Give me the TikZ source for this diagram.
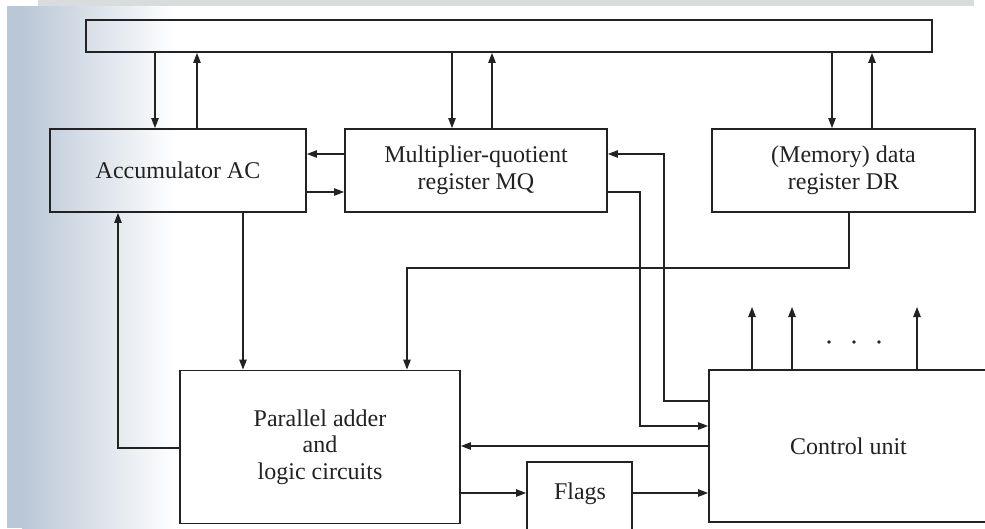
\documentclass[tikz,border=0pt]{standalone}
\usepackage{fontspec}
\setmainfont{Liberation Serif}
\usetikzlibrary{arrows.meta,calc}
\definecolor{ink}{HTML}{222222}
\definecolor{scanblue}{HTML}{BAC7D6}
\definecolor{scangrey}{HTML}{D8DCDC}
\begin{document}
\begin{tikzpicture}[x=1pt,y=-1pt,
  box/.style={draw=ink, line width=1.9pt, inner sep=0pt, align=center,
    font=\fontsize{24}{26.5}\selectfont, text=ink},
  lbl/.style={inner sep=0pt, font=\fontsize{24}{26.5}\selectfont, text=ink},
  arr/.style={draw=ink, line width=1.1pt, -{Triangle[length=10pt,width=7.5pt]}}]
\clip (0,0) rectangle (985,528);
\fill[white] (0,0) rectangle (985,528);
% scan artefacts
\fill[scangrey] (38,0) rectangle (974,6);
\fill[scanblue] (7,6) rectangle (22,528);
\shade[left color=scanblue, right color=white] (22,6) rectangle (175,528);

% boxes
\node[box, minimum width=846pt, minimum height=32pt] (bus) at (509,36) {};
\node[box, minimum width=256pt, minimum height=83pt] (ac) at (178,170.5) {Accumulator AC};
\node[box, minimum width=262pt, minimum height=83pt] (mq) at (476,170.5) {Multiplier-quotient\\register MQ};
\node[box, minimum width=263pt, minimum height=83pt] (dr) at (843.5,170.5) {(Memory) data\\register DR};
\node[box, minimum width=280pt, minimum height=153pt] (adder) at (320,447) {Parallel adder\\and\\logic circuits};
\node[box, minimum width=279pt, minimum height=152pt] (control) at (848.5,446) {Control unit};
\node[box, minimum width=105pt, minimum height=80pt] (flags) at (579.5,502) {};
\node[lbl] (flagstxt) at (580,494) {Flags};

% reference coordinates
\coordinate (x155) at (155,0);
\coordinate (x197) at (197,0);
\coordinate (x452) at (452,0);
\coordinate (x492) at (492,0);
\coordinate (x832) at (832,0);
\coordinate (x872) at (872,0);
\coordinate (x243) at (243,0);
\coordinate (x849) at (849,0);
\coordinate (x407) at (407,0);
\coordinate (x118) at (118,0);
\coordinate (x664) at (664,0);
\coordinate (x640) at (640,0);
\coordinate (y154) at (0,154);
\coordinate (y192) at (0,192);
\coordinate (y268) at (0,268);
\coordinate (y448) at (0,448);
\coordinate (y401) at (0,401);
\coordinate (y426) at (0,426);
\coordinate (y446) at (0,446);
\coordinate (y493) at (0,493);
\coordinate (o1) at (752,307);
\coordinate (o2) at (792,307);
\coordinate (o3) at (917,307);

% bus connections
\draw[arr] (bus.south -| x155) -- (ac.north -| x155);
\draw[arr] (ac.north -| x197) -- (bus.south -| x197);
\draw[arr] (bus.south -| x452) -- (mq.north -| x452);
\draw[arr] (mq.north -| x492) -- (bus.south -| x492);
\draw[arr] (bus.south -| x832) -- (dr.north -| x832);
\draw[arr] (dr.north -| x872) -- (bus.south -| x872);

% AC <-> MQ
\draw[arr] (mq.west |- y154) -- (ac.east |- y154);
\draw[arr] (ac.east |- y192) -- (mq.west |- y192);

% into adder
\draw[arr] (ac.south -| x243) -- (adder.north -| x243);
\draw[arr] (dr.south -| x849) -- (x849 |- y268) -- (x407 |- y268) -- (adder.north -| x407);
\draw[arr] (adder.west |- y448) -- (x118 |- y448) -- (ac.south -| x118);

% control unit links
\draw[arr] (control.west |- y401) -- (x664 |- y401) -- (x664 |- y154) -- (mq.east |- y154);
\draw[arr] (mq.east |- y192) -- (x640 |- y192) -- (x640 |- y426) -- (control.west |- y426);
\draw[arr] (control.west |- y446) -- (adder.east |- y446);
\draw[arr] (adder.east |- y493) -- (flags.west |- y493);
\draw[arr] (flags.east |- y493) -- (control.west |- y493);

% control outputs
\draw[arr] (control.north -| o1) -- (o1);
\draw[arr] (control.north -| o2) -- (o2);
\draw[arr] (control.north -| o3) -- (o3);
\fill[ink] (829,342) circle (1.8pt);
\fill[ink] (854,342) circle (1.8pt);
\fill[ink] (879,342) circle (1.8pt);
\end{tikzpicture}
\end{document}
